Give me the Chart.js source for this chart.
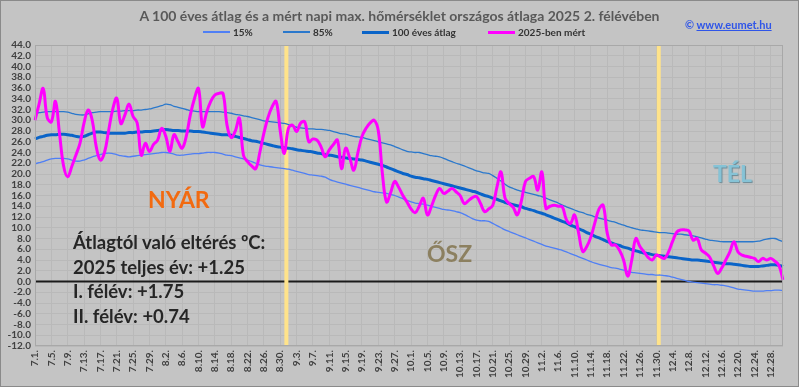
<!DOCTYPE html>
<html>
<head>
<meta charset="utf-8">
<script src="https://cdn.jsdelivr.net/npm/chart.js@4.4.1/dist/chart.umd.min.js"></script>
<style>
  body { margin: 0; background: #c4c4c4; }
  #wrap { position: relative; width: 799px; height: 387px; background: #c4c4c4; overflow: hidden; }
  #c { position: absolute; left: 0; top: 0; }
  #frame { position: absolute; left: 0; top: 0; width: 797px; height: 385px; border: 1px solid #8a8a8a; }
  .t { position: absolute; font-family: Lato, "Open Sans", sans-serif; font-weight: bold; line-height: 1; white-space: nowrap; }
  .title { left: 0; width: 799px; text-align: center; top: 9px; font-size: 14px; color: #595959; }
  .copy { left: 685px; top: 19px; font-size: 11px; color: #2f55e8; }
  .copy u { text-decoration: underline; }
  .leg { top: 27px; font-size: 10px; color: #333; display: flex; align-items: center; }
  .leg i { display: inline-block; width: 27px; margin-right: 3px; }
  .season { font-size: 23px; }
  .stat { left: 73px; font-size: 18.5px; color: #262626; }
</style>
</head>
<body>
<div id="wrap">
  <canvas id="c" width="799" height="387"></canvas>
  <div id="frame"></div>
  <div class="t title">A 100 éves átlag és a mért napi max. hőmérséklet országos átlaga 2025 2. félévében</div>
  <div class="t copy">© <u>www.eumet.hu</u></div>
  <div class="t leg" style="left:203px"><i style="height:1.5px;background:#4f7ff5"></i>15%</div>
  <div class="t leg" style="left:283px"><i style="height:1.5px;background:#2a78cc"></i>85%</div>
  <div class="t leg" style="left:362px"><i style="height:3px;background:#0a64c8"></i>100 éves átlag</div>
  <div class="t leg" style="left:488px"><i style="height:3px;background:#ff00ff"></i>2025-ben mért</div>
  <div class="t season" style="left:148px;top:188px;color:#f26a10">NYÁR</div>
  <div class="t season" style="left:427px;top:242px;color:#8c8060">ŐSZ</div>
  <div class="t season" style="left:713px;top:162px;color:#86c3d6;text-shadow:1px 1px 1px #6a8a96">TÉL</div>
  <div class="t stat" style="top:233px">Átlagtól való eltérés ºC:</div>
  <div class="t stat" style="top:258px">2025 teljes év: +1.25</div>
  <div class="t stat" style="top:282px">I. félév: +1.75</div>
  <div class="t stat" style="top:307px">II. félév: +0.74</div>
</div>
<script>
// categories: 7.1. ... 12.31.
const monthNums = [7, 8, 9, 10, 11, 12];
const monthDays = [31, 31, 30, 31, 30, 31];
const dayLabels = [];
monthNums.forEach((m, k) => {
    for (let d = 1; d <= monthDays[k]; d++) dayLabels.push(m + '.' + d + '.');
});

// 15%
const p15 = [
    21.9, 22.1, 22.3, 22.6, 22.8, 22.9, 22.9, 22.9, 22.8, 22.6, 22.4, 22.4, 22.6, 22.9, 23.2, 23.4, 23.6, 23.8, 23.9, 23.8,
    23.6, 23.4, 23.3, 23.2, 23.3, 23.4, 23.5, 23.6, 23.7, 23.8, 23.9, 24.0, 24.0, 23.9, 23.7, 23.5, 23.5, 23.6, 23.7, 23.8,
    23.8, 23.9, 24.0, 24.0, 24.0, 23.9, 23.7, 23.5, 23.4, 23.2, 23.0, 22.8, 22.6, 22.3, 22.0, 21.7, 21.5, 21.4, 21.3, 21.2,
    21.1, 21.0, 20.9, 20.7, 20.5, 20.3, 20.1, 19.9, 19.8, 19.7, 19.6, 19.4, 19.0, 18.7, 18.5, 18.3, 18.1, 17.9, 17.7, 17.5,
    17.3, 17.1, 16.9, 16.7, 16.6, 16.5, 16.4, 16.2, 16.0, 15.7, 15.4, 15.1, 14.8, 14.6, 14.5, 14.4, 14.2, 14.0, 13.8, 13.6,
    13.4, 13.3, 13.2, 13.0, 12.8, 12.5, 12.1, 11.7, 11.4, 11.3, 11.3, 11.2, 10.8, 10.4, 10.0, 9.6, 9.3, 9.0, 8.7, 8.4,
    8.1, 7.8, 7.5, 7.2, 6.9, 6.6, 6.4, 6.2, 6.0, 5.8, 5.5, 5.2, 4.9, 4.6, 4.3, 4.0, 3.7, 3.4, 3.2, 3.0,
    2.8, 2.6, 2.5, 2.3, 2.1, 1.9, 1.7, 1.6, 1.5, 1.4, 1.3, 1.3, 1.2, 1.2, 1.1, 1.0, 0.8, 0.6, 0.4, 0.2,
    0.0, -0.1, -0.2, -0.3, -0.4, -0.5, -0.6, -0.6, -0.7, -0.8, -1.0, -1.2, -1.4, -1.5, -1.6, -1.7, -1.8, -1.8, -1.8, -1.7,
    -1.7, -1.6, -1.6, -1.7
];

// 85%
const p85 = [
    31.2, 31.4, 31.5, 31.6, 31.6, 31.6, 31.6, 31.6, 31.5, 31.3, 31.1, 31.0, 31.0, 31.2, 31.4, 31.5, 31.6, 31.6, 31.6, 31.6,
    31.7, 31.7, 31.8, 31.8, 31.8, 31.9, 31.9, 32.0, 32.1, 32.3, 32.5, 32.7, 33.0, 32.9, 32.6, 32.4, 32.2, 32.0, 31.8, 31.7,
    31.6, 31.6, 31.6, 31.6, 31.6, 31.6, 31.5, 31.4, 31.3, 31.1, 31.0, 30.8, 30.7, 30.5, 30.3, 30.1, 29.9, 29.8, 29.7, 29.6,
    29.5, 29.4, 29.2, 28.9, 28.7, 28.6, 28.5, 28.4, 28.4, 28.3, 28.3, 28.2, 28.1, 27.9, 27.7, 27.5, 27.4, 27.2, 27.0, 26.9,
    26.8, 26.6, 26.4, 26.2, 26.0, 25.8, 25.6, 25.4, 25.1, 24.8, 24.5, 24.2, 24.1, 24.0, 24.0, 23.8, 23.6, 23.4, 23.3, 23.2,
    22.9, 22.6, 22.3, 22.0, 21.8, 21.5, 21.2, 20.9, 20.6, 20.4, 20.2, 20.1, 19.7, 19.2, 18.7, 18.1, 17.6, 17.3, 17.0, 16.8,
    16.6, 16.4, 16.2, 16.0, 15.8, 15.5, 15.2, 14.9, 14.6, 14.2, 13.9, 13.6, 13.3, 13.0, 12.8, 12.5, 12.3, 12.0, 11.8, 11.6,
    11.4, 11.2, 11.0, 10.7, 10.5, 10.2, 10.0, 9.8, 9.6, 9.5, 9.4, 9.3, 9.2, 9.1, 9.1, 9.0, 8.9, 8.8, 8.8, 8.7,
    8.6, 8.5, 8.3, 8.1, 7.9, 7.7, 7.6, 7.5, 7.4, 7.4, 7.4, 7.4, 7.4, 7.4, 7.4, 7.4, 7.4, 7.5, 7.7, 7.9,
    8.0, 8.0, 7.7, 7.4
];

// 100 éves átlag
const avg100 = [
    26.5, 26.8, 27.0, 27.2, 27.3, 27.3, 27.4, 27.4, 27.3, 27.2, 27.0, 26.9, 27.0, 27.3, 27.6, 27.8, 27.8, 27.7, 27.6, 27.6,
    27.6, 27.6, 27.6, 27.7, 27.7, 27.8, 27.8, 27.9, 27.9, 28.0, 28.1, 28.2, 28.3, 28.2, 28.1, 28.1, 28.0, 28.0, 28.0, 27.9,
    27.9, 27.8, 27.7, 27.6, 27.5, 27.4, 27.3, 27.3, 27.2, 27.0, 26.8, 26.6, 26.4, 26.2, 26.1, 25.9, 25.7, 25.5, 25.3, 25.1,
    25.0, 24.9, 24.8, 24.7, 24.5, 24.4, 24.3, 24.2, 24.1, 23.9, 23.8, 23.6, 23.5, 23.4, 23.2, 23.1, 23.0, 22.9, 22.8, 22.7,
    22.6, 22.4, 22.2, 22.0, 21.8, 21.6, 21.3, 21.0, 20.7, 20.4, 20.1, 19.9, 19.6, 19.4, 19.3, 19.1, 19.0, 18.8, 18.6, 18.4,
    18.2, 18.0, 17.8, 17.6, 17.4, 17.2, 17.0, 16.8, 16.6, 16.3, 16.0, 15.8, 15.5, 15.3, 15.0, 14.7, 14.5, 14.3, 14.1, 13.9,
    13.6, 13.4, 13.2, 12.9, 12.7, 12.4, 12.1, 11.8, 11.5, 11.2, 10.9, 10.5, 10.2, 9.8, 9.5, 9.1, 8.8, 8.4, 8.1, 7.8,
    7.4, 7.2, 6.9, 6.7, 6.4, 6.2, 5.9, 5.7, 5.5, 5.3, 5.2, 5.0, 4.9, 4.8, 4.7, 4.6, 4.5, 4.4, 4.3, 4.2,
    4.1, 4.0, 4.0, 3.9, 3.8, 3.7, 3.6, 3.5, 3.4, 3.3, 3.3, 3.2, 3.1, 3.0, 2.9, 2.8, 2.8, 2.8, 2.9, 3.0,
    3.1, 3.1, 3.0, 2.8
];

// 2025-ben mért
const measured = [
    30.0, 33.0, 35.9, 30.5, 29.7, 33.5, 27.5, 21.5, 19.5, 21.4, 23.5, 25.7, 29.5, 31.9, 30.0, 25.0, 22.6, 24.0, 28.0, 32.0,
    34.1, 29.4, 31.0, 33.0, 30.7, 29.5, 23.5, 25.7, 24.2, 25.5, 26.3, 28.5, 27.0, 24.2, 27.3, 26.0, 24.8, 27.0, 31.0, 34.0,
    35.9, 28.8, 31.5, 33.5, 34.7, 35.0, 35.0, 29.0, 26.8, 28.0, 30.4, 23.5, 22.3, 21.5, 21.0, 24.0, 27.6, 30.5, 32.5, 33.5,
    28.0, 23.8, 28.5, 29.1, 27.9, 29.5, 29.7, 26.0, 26.5, 26.3, 25.0, 23.2, 24.5, 25.5, 26.3, 21.0, 24.8, 23.0, 20.7, 24.0,
    27.0, 28.5, 29.5, 30.0, 28.0, 20.0, 14.8, 16.5, 18.6, 17.5, 16.0, 14.8, 13.5, 12.8, 14.0, 15.5, 12.4, 14.0, 16.0, 17.3,
    16.4, 16.8, 17.3, 16.7, 16.0, 14.5, 15.0, 15.6, 15.8, 14.5, 13.0, 13.5, 14.2, 17.5, 20.4, 15.5, 14.5, 13.8, 12.4, 15.0,
    18.6, 19.2, 19.5, 17.0, 20.4, 13.6, 14.0, 14.2, 14.0, 13.9, 11.5, 10.8, 12.4, 9.0, 5.6, 6.5, 8.3, 11.0, 13.5, 14.2,
    9.0, 6.8, 6.8, 5.8, 4.0, 1.0, 4.0, 8.0, 6.5, 5.5, 4.5, 4.0, 4.9, 4.6, 4.3, 5.5, 7.5, 9.2, 9.6, 9.6,
    9.4, 7.7, 8.0, 5.9, 5.3, 4.6, 3.0, 1.5, 2.5, 4.0, 5.5, 7.4, 5.5, 4.9, 4.7, 4.5, 4.3, 3.7, 4.3, 4.0,
    4.3, 3.8, 3.0, 0.3
];

// y tengely
const yMin = -12, yMax = 44, yStep = 2;
// évszakhatárok (szept. 1. és dec. 1. előtt)
const seasonMarks = [61.5, 152.6];

const gridGray = '#b9b9b9';

const extras = {
    id: 'extras',
    beforeDatasetsDraw(chart) {
        const { ctx, chartArea: a, scales: { x, y } } = chart;
        ctx.save();
        // nulla vonal
        ctx.strokeStyle = '#1a1a1a';
        ctx.lineWidth = 2;
        const y0 = y.getPixelForValue(0);
        ctx.beginPath(); ctx.moveTo(a.left, y0); ctx.lineTo(a.right, y0); ctx.stroke();
        // sárga vonalak
        ctx.strokeStyle = '#ffe38a';
        ctx.lineWidth = 4;
        seasonMarks.forEach(v => {
            const px = x.getPixelForValue(v);
            ctx.beginPath(); ctx.moveTo(px, a.top); ctx.lineTo(px, a.bottom); ctx.stroke();
        });
        ctx.restore();
    },
    afterDraw(chart) {
        const { ctx, chartArea: a } = chart;
        ctx.save();
        ctx.strokeStyle = '#a8a8a8';
        ctx.lineWidth = 1;
        ctx.strokeRect(a.left + 0.5, a.top + 0.5, a.right - a.left - 1, a.bottom - a.top - 1);
        ctx.restore();
    }
};

new Chart(document.getElementById('c'), {
    type: 'line',
    data: {
        labels: dayLabels,
        datasets: [
            { label: '2025-ben mért', data: measured, borderColor: '#ff00ff', borderWidth: 3, tension: 0.4 },
            { label: '100 éves átlag', data: avg100, borderColor: '#0a64c8', borderWidth: 3, tension: 0.4 },
            { label: '85%', data: p85, borderColor: '#2a78cc', borderWidth: 1.3, tension: 0.4 },
            { label: '15%', data: p15, borderColor: '#4f7ff5', borderWidth: 1.3, tension: 0.4 }
        ]
    },
    options: {
        responsive: false,
        animation: false,
        devicePixelRatio: 1,
        layout: { padding: { top: 45, right: 9, left: 0, bottom: 0 } },
        elements: { point: { radius: 0 } },
        plugins: { legend: { display: false }, title: { display: false }, tooltip: { enabled: false } },
        scales: {
            x: {
                type: 'category',
                offset: false,
                afterFit: s => { s.height = 41; },
                grid: {
                    color: c => (c.index % 4 === 0 ? gridGray : 'transparent'),
                    lineWidth: 1,
                    drawTicks: false
                },
                border: { display: false },
                ticks: {
                    autoSkip: false,
                    maxRotation: 90,
                    minRotation: 90,
                    padding: 4,
                    color: '#404040',
                    font: { family: 'Lato', weight: 'bold', size: 10 },
                    callback: (v, i) => (i % 4 === 0 ? dayLabels[i] : '')
                }
            },
            y: {
                min: yMin,
                max: yMax,
                afterFit: s => { s.width = 35; },
                grid: { color: gridGray, lineWidth: 1, drawTicks: false },
                border: { display: false },
                ticks: {
                    autoSkip: false,
                    stepSize: yStep,
                    padding: 4,
                    color: '#404040',
                    font: { family: 'Lato', weight: 'bold', size: 10 },
                    callback: v => v.toFixed(1)
                }
            }
        }
    },
    plugins: [extras]
});
</script>
</body>
</html>
